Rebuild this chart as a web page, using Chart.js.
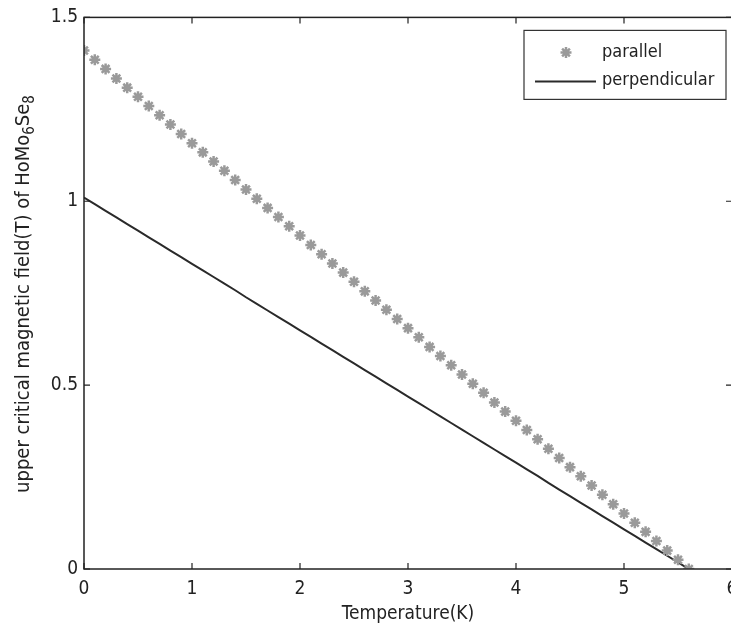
<!DOCTYPE html>
<html>
<head>
<meta charset="utf-8">
<script src="https://cdn.jsdelivr.net/npm/chart.js@4.4.1/dist/chart.umd.min.js"></script>
<style>
  html, body { margin: 0; padding: 0; background: #fff; overflow: hidden; }
  #wrap { width: 731px; height: 630px; overflow: hidden; }
</style>
</head>
<body>
<div id="wrap"><canvas id="chart" width="760" height="630"></canvas></div>
<script>
// temperature (K) at each sample
const temps = [0, 0.1, 0.2, 0.3, 0.4, 0.5, 0.6, 0.7, 0.8, 0.9,
  1.0, 1.1, 1.2, 1.3, 1.4, 1.5, 1.6, 1.7, 1.8, 1.9,
  2.0, 2.1, 2.2, 2.3, 2.4, 2.5, 2.6, 2.7, 2.8, 2.9,
  3.0, 3.1, 3.2, 3.3, 3.4, 3.5, 3.6, 3.7, 3.8, 3.9,
  4.0, 4.1, 4.2, 4.3, 4.4, 4.5, 4.6, 4.7, 4.8, 4.9,
  5.0, 5.1, 5.2, 5.3, 5.4, 5.5, 5.6];

// upper critical field (T), field parallel
const parallel = [1.410, 1.385, 1.360, 1.334, 1.309, 1.284, 1.259, 1.234, 1.209, 1.183,
  1.158, 1.133, 1.108, 1.083, 1.058, 1.032, 1.007, 0.982, 0.957, 0.932,
  0.907, 0.881, 0.856, 0.831, 0.806, 0.781, 0.755, 0.730, 0.705, 0.680,
  0.655, 0.630, 0.604, 0.579, 0.554, 0.529, 0.504, 0.479, 0.453, 0.428,
  0.403, 0.378, 0.353, 0.327, 0.302, 0.277, 0.252, 0.227, 0.202, 0.176,
  0.151, 0.126, 0.101, 0.076, 0.050, 0.025, 0.000];

// upper critical field (T), field perpendicular
const perpendicular = [1.010, 0.992, 0.974, 0.956, 0.938, 0.920, 0.902, 0.884, 0.866, 0.848,
  0.830, 0.812, 0.794, 0.776, 0.758, 0.739, 0.721, 0.703, 0.685, 0.667,
  0.649, 0.631, 0.613, 0.595, 0.577, 0.559, 0.541, 0.523, 0.505, 0.487,
  0.469, 0.451, 0.433, 0.415, 0.397, 0.379, 0.361, 0.343, 0.325, 0.307,
  0.289, 0.271, 0.253, 0.234, 0.216, 0.198, 0.180, 0.162, 0.144, 0.126,
  0.108, 0.090, 0.072, 0.054, 0.036, 0.018, 0.000];

const xTicks = [0, 1, 2, 3, 4, 5, 6];
const yTicks = [0, 0.5, 1, 1.5];
const seriesNames = ['parallel', 'perpendicular'];

const FONT = "'DejaVu Sans Condensed', 'Liberation Sans', sans-serif";
const markerColor = '#9a9a9a';
const lineColor = '#2a2a2a';

function toPoints(ys) {
    return temps.map((t, i) => ({ x: t, y: ys[i] }));
}

function drawStar(ctx, x, y, r) {
    ctx.beginPath();
    for (let k = 0; k < 4; k++) {
        const a = k * Math.PI / 4;
        ctx.moveTo(x - r * Math.cos(a), y - r * Math.sin(a));
        ctx.lineTo(x + r * Math.cos(a), y + r * Math.sin(a));
    }
    ctx.stroke();
}

// box, inward ticks, axis titles and legend, matlab style
const matlabFrame = {
    id: 'matlabFrame',
    afterDraw(chart) {
        const ctx = chart.ctx;
        const a = chart.chartArea;
        const xs = chart.scales.x;
        const ys = chart.scales.y;
        ctx.save();
        ctx.strokeStyle = '#222';
        ctx.lineWidth = 1.5;
        ctx.strokeRect(a.left, a.top, a.right - a.left, a.bottom - a.top);

        const tl = 6;
        ctx.lineWidth = 1.2;
        ctx.beginPath();
        xTicks.forEach(v => {
            const px = xs.getPixelForValue(v);
            ctx.moveTo(px, a.bottom); ctx.lineTo(px, a.bottom - tl);
            ctx.moveTo(px, a.top); ctx.lineTo(px, a.top + tl);
        });
        yTicks.forEach(v => {
            const py = ys.getPixelForValue(v);
            ctx.moveTo(a.left, py); ctx.lineTo(a.left + tl, py);
            ctx.moveTo(a.right, py); ctx.lineTo(a.right - tl, py);
        });
        ctx.stroke();

        // x title
        ctx.fillStyle = '#222';
        ctx.font = '19px ' + FONT;
        ctx.textAlign = 'center';
        ctx.textBaseline = 'middle';
        ctx.fillText('Temperature(K)', (a.left + a.right) / 2, 614);

        // y title with subscripts
        const parts = [
            ['upper critical magnetic field(T) of HoMo', false],
            ['6', true], ['Se', false], ['8', true]
        ];
        const big = '20px ' + FONT, small = '15px ' + FONT;
        let total = 0;
        parts.forEach(p => { ctx.font = p[1] ? small : big; total += ctx.measureText(p[0]).width; });
        ctx.save();
        ctx.translate(24, 294);
        ctx.rotate(-Math.PI / 2);
        ctx.textAlign = 'left';
        let cx = -total / 2;
        parts.forEach(p => {
            ctx.font = p[1] ? small : big;
            ctx.fillText(p[0], cx, p[1] ? 6 : 0);
            cx += ctx.measureText(p[0]).width;
        });
        ctx.restore();

        // legend
        const lw = 202, lh = 69;
        const lx = a.right - 6 - lw, ly = a.top + 13;
        ctx.fillStyle = '#fff';
        ctx.fillRect(lx, ly, lw, lh);
        ctx.strokeStyle = '#333';
        ctx.lineWidth = 1.2;
        ctx.strokeRect(lx, ly, lw, lh);
        ctx.strokeStyle = markerColor;
        ctx.lineWidth = 2.5;
        drawStar(ctx, lx + 42, ly + 22, 5.5);
        ctx.strokeStyle = lineColor;
        ctx.lineWidth = 2;
        ctx.beginPath();
        ctx.moveTo(lx + 11, ly + 51); ctx.lineTo(lx + 72, ly + 51);
        ctx.stroke();
        ctx.fillStyle = '#222';
        ctx.font = '18px ' + FONT;
        ctx.textAlign = 'left';
        ctx.fillText(seriesNames[0], lx + 78, ly + 22);
        ctx.fillText(seriesNames[1], lx + 78, ly + 50);
        ctx.restore();
    }
};

new Chart(document.getElementById('chart').getContext('2d'), {
    type: 'scatter',
    data: {
        datasets: [
            {
                label: seriesNames[0],
                data: toPoints(parallel),
                showLine: false,
                pointStyle: 'star',
                pointRadius: 5.5,
                borderWidth: 2.5,
                borderColor: markerColor,
                backgroundColor: markerColor
            },
            {
                label: seriesNames[1],
                data: toPoints(perpendicular),
                showLine: true,
                pointRadius: 0,
                borderWidth: 2,
                borderColor: lineColor,
                fill: false
            }
        ]
    },
    options: {
        responsive: false,
        animation: false,
        layout: { padding: { left: 0, top: 16, right: 28, bottom: 0 } },
        plugins: { legend: { display: false }, tooltip: { enabled: false } },
        scales: {
            x: {
                type: 'linear', min: 0, max: 6,
                afterFit(s) { s.height = 61; },
                afterBuildTicks(s) { s.ticks = xTicks.map(v => ({ value: v })); },
                grid: { display: false, drawTicks: false },
                border: { display: false },
                ticks: { color: '#222', font: { family: FONT, size: 19 }, padding: 9 }
            },
            y: {
                type: 'linear', min: 0, max: 1.5,
                afterFit(s) { s.width = 84; },
                afterBuildTicks(s) { s.ticks = yTicks.map(v => ({ value: v })); },
                grid: { display: false, drawTicks: false },
                border: { display: false },
                ticks: {
                    color: '#222', font: { family: FONT, size: 19 }, padding: 6,
                    callback: v => String(v)
                }
            }
        }
    },
    plugins: [matlabFrame]
});
</script>
</body>
</html>
